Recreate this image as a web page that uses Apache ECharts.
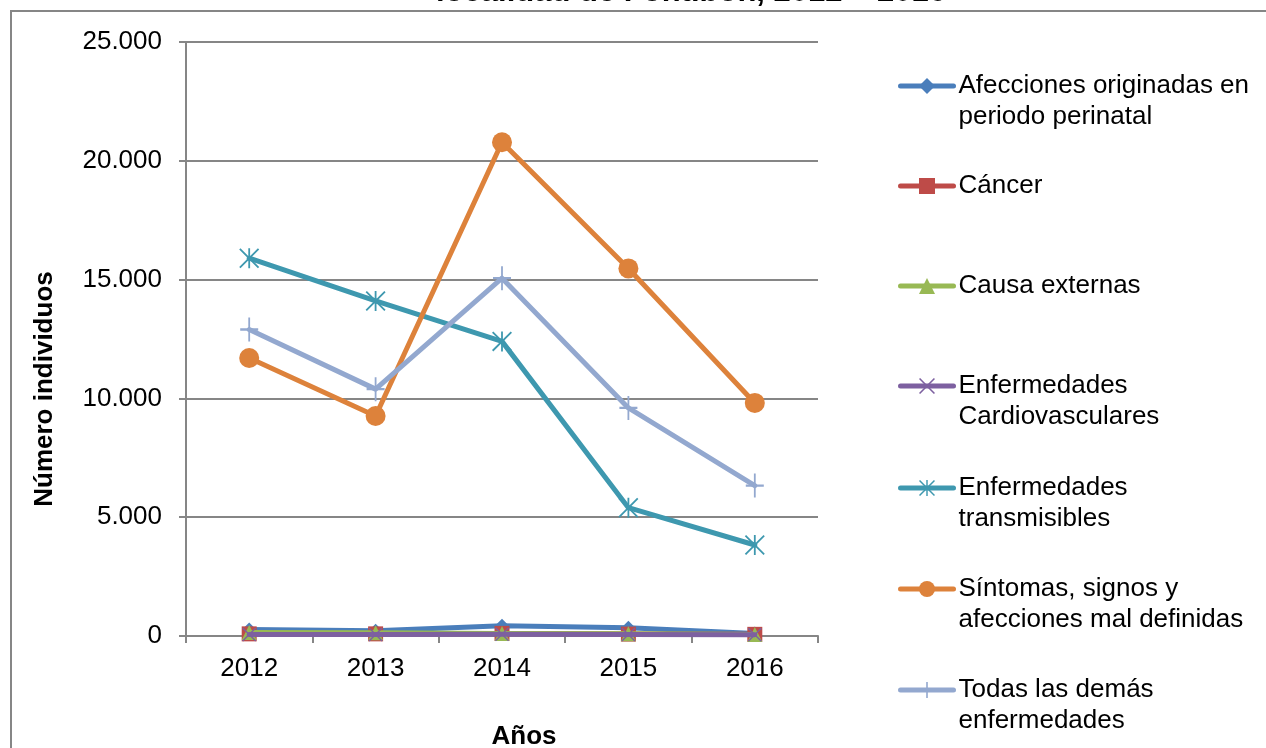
<!DOCTYPE html>
<html>
<head>
<meta charset="utf-8">
<script src="https://cdn.jsdelivr.net/npm/echarts@6/dist/echarts.min.js"></script>
<style>html,body{margin:0;padding:0;background:#fff}#c{width:1266px;height:748px}</style>
</head>
<body>
<div id="c"></div>
<script>
const categories = ['2012', '2013', '2014', '2015', '2016'];
const yTicks = [0, 5000, 10000, 15000, 20000, 25000];
const seriesNames = [
  'Afecciones originadas en\nperiodo perinatal',
  'Cáncer',
  'Causa externas',
  'Enfermedades\nCardiovasculares',
  'Enfermedades\ntransmisibles',
  'Síntomas, signos y\nafecciones mal definidas',
  'Todas las demás\nenfermedades'
];
const afecciones = [270, 220, 430, 350, 110];
const cancer = [90, 90, 110, 80, 70];
const causaExternas = [150, 140, 110, 90, 60];
const cardiovasculares = [60, 60, 70, 60, 50];
const transmisibles = [15900, 14100, 12400, 5400, 3830];
const sintomas = [11700, 9260, 20780, 15470, 9810];
const demas = [12900, 10390, 15060, 9600, 6330];
const titleText = 'localidad de Fontibón, 2012 – 2016';
const yName = 'Número individuos';
const xName = 'Años';

const FONT = 'Liberation Sans, Arial, sans-serif';
const colors = ['#4A7EBB', '#BE4B48', '#98B954', '#7D60A0', '#3E98AF', '#DD823B', '#93A8CF'];
const ASTER = 'path://M-0.9,-10 L0.9,-10 L0.9,10 L-0.9,10 Z M-10,-8.7 L-8.7,-10 L10,8.7 L8.7,10 Z M8.7,-10 L10,-8.7 L-8.7,10 L-10,8.7 Z';
const PLUS = 'path://M-1,-10 L1,-10 L1,10 L-1,10 Z M-10,-1 L10,-1 L10,1 L-10,1 Z';
const XMARK = 'path://M-10,-8.6 L-8.6,-10 L10,8.6 L8.6,10 Z M8.6,-10 L10,-8.6 L-8.6,10 L-10,8.6 Z';
const symbols = ['diamond', 'rect', 'triangle', XMARK, ASTER, 'circle', PLUS];
const symbolSizes = [14, 15, 15, 14, 20, 20, [18, 24]];
const dataSets = [afecciones, cancer, causaExternas, cardiovasculares, transmisibles, sintomas, demas];
const legendTops = [86, 186, 286, 386, 488, 589, 690];

const series = dataSets.map((d, i) => ({
  name: seriesNames[i],
  type: 'line',
  data: d,
  symbol: symbols[i],
  symbolSize: symbolSizes[i],
  z: 2 + (i >= 4 ? 0 : i),
  lineStyle: { width: 5, color: colors[i], cap: 'round', join: 'round' },
  itemStyle: { color: colors[i] },
  animation: false
}));

const LH = 31;
const legends = seriesNames.map((n, i) => {
  const twoLine = n.indexOf('\n') >= 0;
  return {
    data: [n],
    left: 898,
    top: legendTops[i] - (twoLine ? LH * 1.5 : LH / 2),
    orient: 'vertical',
    padding: 0,
    itemWidth: 53,
    itemHeight: 20,
    itemGap: 0,
    selectedMode: false,
    formatter: name => (name.indexOf('\n') >= 0 ? '\n' + name : name),
    lineStyle: { width: 5, cap: 'round' },
    textStyle: { fontFamily: FONT, fontSize: 26, color: '#000', lineHeight: LH }
  };
});

const chart = echarts.init(document.getElementById('c'), null, { renderer: 'canvas' });
chart.setOption({
  backgroundColor: '#fff',
  animation: false,
  color: colors,
  graphic: [
    { type: 'rect', shape: { x: 11, y: 11, width: 1400, height: 900 }, style: { fill: 'none', stroke: '#868686', lineWidth: 2 }, z: -1 },
    { type: 'text', x: 691, y: -8, style: { text: titleText, fontFamily: FONT, fontWeight: 'bold', fontSize: 31, fill: '#000', align: 'center', verticalAlign: 'middle' } },
    { type: 'text', x: 45, y: 389, rotation: Math.PI / 2, style: { text: yName, fontFamily: FONT, fontWeight: 'bold', fontSize: 26, fill: '#000', align: 'center', verticalAlign: 'middle' } },
    { type: 'text', x: 524, y: 737, style: { text: xName, fontFamily: FONT, fontWeight: 'bold', fontSize: 26, fill: '#000', align: 'center', verticalAlign: 'middle' } }
  ],
  legend: legends,
  grid: { left: 186, top: 42, right: 448, bottom: 112, containLabel: false },
  xAxis: {
    type: 'category',
    data: categories,
    boundaryGap: true,
    axisLine: { lineStyle: { color: '#868686', width: 2 } },
    axisTick: { show: true, length: 7, inside: false, alignWithLabel: false, lineStyle: { color: '#868686', width: 2 } },
    axisLabel: { fontFamily: FONT, fontSize: 26, color: '#000', margin: 20 },
    splitLine: { show: false }
  },
  yAxis: {
    type: 'value',
    min: yTicks[0],
    max: yTicks[yTicks.length - 1],
    interval: yTicks[1] - yTicks[0],
    axisLine: { show: true, lineStyle: { color: '#868686', width: 2 } },
    axisTick: { show: true, length: 7, lineStyle: { color: '#868686', width: 2 } },
    axisLabel: {
      fontFamily: FONT, fontSize: 26, color: '#000', margin: 24,
      formatter: v => String(v).replace(/\B(?=(\d{3})+(?!\d))/g, '.')
    },
    splitLine: { show: true, lineStyle: { color: '#868686', width: 2 } }
  },
  series: series
});
</script>
</body>
</html>
